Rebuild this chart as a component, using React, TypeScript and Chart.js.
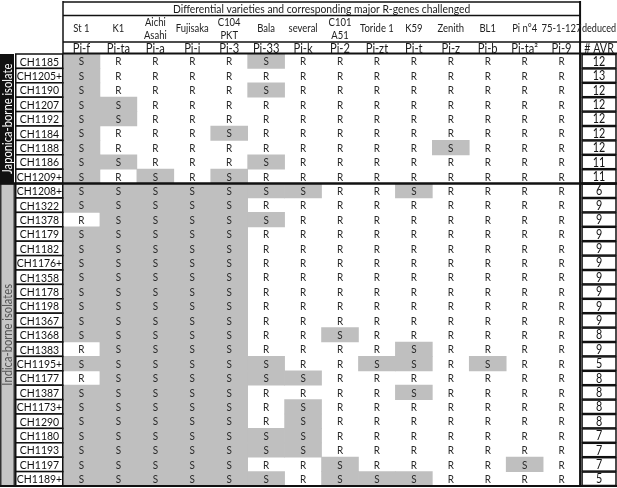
import React, { useEffect, useRef } from "react";
import { Chart, registerables } from "chart.js";
Chart.register(...registerables);

const title = "Differential varieties and corresponding major R-genes challenged";
const isolates = ["CH1185","CH1205+","CH1190","CH1207","CH1192","CH1184","CH1188","CH1186","CH1209+","CH1208+","CH1322","CH1378","CH1179","CH1182","CH1176+","CH1358","CH1178","CH1198","CH1367","CH1368","CH1383","CH1195+","CH1177","CH1387","CH1173+","CH1290","CH1180","CH1193","CH1197","CH1189+"];
const groupLabels = ["Japonica-borne isolate", "Indica-borne isolates"];
const groupSizes = [9, 21];
const varieties = ["St 1","K1","Aichi\nAsahi","Fujisaka","C104\nPKT","Bala","several","C101\nA51","Toride 1","K59","Zenith","BL1","Pi n°4","75-1-127"];
const genes = ["Pi-f","Pi-ta","Pi-a","Pi-i","Pi-3","Pi-33","Pi-k","Pi-2","Pi-zt","Pi-t","Pi-z","Pi-b","Pi-ta²","Pi-9"];
const reactions = [
  "SRRRRSRRRRRRRR",
  "SRRRRRRRRRRRRR",
  "SRRRRSRRRRRRRR",
  "SSRRRRRRRRRRRR",
  "SSRRRRRRRRRRRR",
  "SRRRSRRRRRRRRR",
  "SRRRRRRRRRSRRR",
  "SSRRRSRRRRRRRR",
  "SRSRSRRRRRRRRR",
  "SSSSSSSRRSRRRR",
  "SSSSSRRRRRRRRR",
  "RSSSSSRRRRRRRR",
  "SSSSSRRRRRRRRR",
  "SSSSSRRRRRRRRR",
  "SSSSSRRRRRRRRR",
  "SSSSSRRRRRRRRR",
  "SSSSSRRRRRRRRR",
  "SSSSSRRRRRRRRR",
  "SSSSSRRRRRRRRR",
  "SSSSSRRSRRRRRR",
  "RSSSSRRRRSRRRR",
  "SSSSSSRRSSRSRR",
  "RSSSSSSRRRRRRR",
  "SSSSSRRRRSRRRR",
  "SSSSSRSRRRRRRR",
  "SSSSSRSRRRRRRR",
  "SSSSSSSRRRRRRR",
  "SSSSSSSRRRRRRR",
  "SSSSSRRSRRRRSR",
  "SSSSSSRSSSRRRR",
];
const avr = [12,13,12,12,12,12,12,11,11,6,9,9,9,9,9,9,9,9,9,8,9,5,8,8,8,8,7,7,7,5];
const avrHeader = ["deduced", "# AVR"];

const FONT = 'Lato, "Open Sans", sans-serif';
const GRAY = "#bfbfbf";
const SX = 0.86;

function txt(ctx: CanvasRenderingContext2D, s: string, x: number, y: number, size: number, color = "#1a1a1a") {
  ctx.save();
  ctx.translate(x, y);
  ctx.scale(SX, 1);
  ctx.font = `${size}px ${FONT}`;
  ctx.fillStyle = color;
  ctx.textAlign = "center";
  ctx.textBaseline = "middle";
  ctx.fillText(s, 0, 0);
  ctx.restore();
}

const tablePlugin = {
  id: "tableText",
  afterDraw(chart: any) {
    const ctx = chart.ctx as CanvasRenderingContext2D;
    const x = chart.scales.x;
    const y = chart.scales.y;
    const W = chart.width;
    const n = isolates.length;
    const band = (y.bottom - y.top) / n;
    const rowTop = (i: number) => y.getPixelForValue(i) - band / 2;
    const colC = (c: number) => x.getPixelForValue(c + 0.5);
    const dataRight = x.getPixelForValue(varieties.length);
    const nameL = 15;
    const nameR = x.left;
    ctx.save();

    // cell letters
    for (let r = 0; r < n; r++) {
      const cy = y.getPixelForValue(r) + 0.5;
      for (let c = 0; c < varieties.length; c++) {
        txt(ctx, reactions[r][c], colC(c), cy, 11.5, "#2a2a2a");
      }
    }

    // name boxes
    ctx.lineWidth = 1.5;
    ctx.strokeStyle = "#111";
    for (let r = 0; r < n; r++) {
      const t = rowTop(r);
      ctx.fillStyle = "#fff";
      ctx.fillRect(nameL, t, nameR - nameL, band);
      ctx.strokeRect(nameL + 0.75, t, nameR - nameL - 1, band);
      txt(ctx, isolates[r], (nameL + nameR) / 2 + 0.5, t + band / 2 + 0.5, 12.2, "#111");
    }

    // deduced boxes
    const dL = dataRight + 2;
    const dR = W - 1;
    for (let r = 0; r < n; r++) {
      const t = rowTop(r);
      ctx.strokeRect(dL, t + 0.5, dR - dL, band - 1);
      txt(ctx, String(avr[r]), (dL + dR) / 2, t + band / 2 + 0.5, 12.5, "#111");
    }

    // group label boxes
    let start = 0;
    groupSizes.forEach((sz, g) => {
      const t = rowTop(start);
      const h = sz * band;
      if (g === 0) {
        ctx.fillStyle = "#111";
        ctx.fillRect(0, t, 14, h);
      } else {
        ctx.fillStyle = "#c6c6c6";
        ctx.fillRect(0, t, 14, h);
        ctx.strokeStyle = "#333";
        ctx.lineWidth = 1.5;
        ctx.strokeRect(0.75, t, 13.5, h);
      }
      ctx.save();
      ctx.translate(7.5, t + h / 2);
      ctx.rotate(-Math.PI / 2);
      txt(ctx, groupLabels[g], 0, 0, 13, g === 0 ? "#fff" : "#555");
      ctx.restore();
      start += sz;
    });

    // structural lines
    ctx.strokeStyle = "#111";
    const line = (x1: number, y1: number, x2: number, y2: number, w: number) => {
      ctx.lineWidth = w;
      ctx.beginPath();
      ctx.moveTo(x1, y1);
      ctx.lineTo(x2, y2);
      ctx.stroke();
    };
    line(dataRight, 1, dataRight, y.bottom, 2);
    line(0, rowTop(groupSizes[0]), W, rowTop(groupSizes[0]), 2.5);
    line(0, y.bottom, W, y.bottom, 2);
    line(x.left, 1, x.left, y.top, 1.5);
    line(x.left, 2, dataRight, 2, 1.5);
    line(x.left, 15.5, dataRight, 15.5, 1.5);
    line(x.left, 42, W, 42, 1.5);
    line(x.left, y.top - 0.5, W, y.top - 0.5, 2);

    // header texts
    txt(ctx, title, (x.left + dataRight) / 2, 9, 12);
    varieties.forEach((v, c) => {
      const parts = v.split("\n");
      if (parts.length === 1) txt(ctx, v, colC(c), 28.5, 11, "#222");
      else {
        txt(ctx, parts[0], colC(c), 22.5, 11, "#222");
        txt(ctx, parts[1], colC(c), 35, 11, "#222");
      }
    });
    genes.forEach((gname, c) => txt(ctx, gname, colC(c), 48.5, 13));
    const dc = (dataRight + W) / 2 + 0.5;
    txt(ctx, avrHeader[0], dc, 28.5, 10.5, "#222");
    txt(ctx, avrHeader[1], dc, 48.5, 12.5);
    ctx.restore();
  },
};

export default function App() {
  const ref = useRef<HTMLCanvasElement>(null);
  useEffect(() => {
    if (!ref.current) return;
    const datasets = varieties.map((v, c) => ({
      label: genes[c],
      data: reactions.map((row) => (row[c] === "S" ? [c, c + 1] : null)),
      backgroundColor: GRAY,
      borderWidth: 0,
      barPercentage: 1,
      categoryPercentage: 1,
      grouped: false,
    }));
    const chart = new Chart(ref.current, {
      type: "bar",
      data: { labels: isolates, datasets: datasets as any },
      options: {
        indexAxis: "y",
        responsive: false,
        animation: false,
        layout: { padding: { left: 63, top: 54, right: 0, bottom: 2 } },
        plugins: { legend: { display: false }, tooltip: { enabled: false }, title: { display: false } },
        scales: {
          x: { type: "linear", min: 0, max: varieties.length + 1, display: false },
          y: { type: "category", display: false, offset: true },
        },
      },
      plugins: [tablePlugin],
    });
    return () => chart.destroy();
  }, []);
  return (
    <div style={{ position: "fixed", left: 0, top: 0, width: 617, height: 488, background: "#fff" }}>
      <canvas ref={ref} width={617} height={488} style={{ display: "block" }} />
    </div>
  );
}
